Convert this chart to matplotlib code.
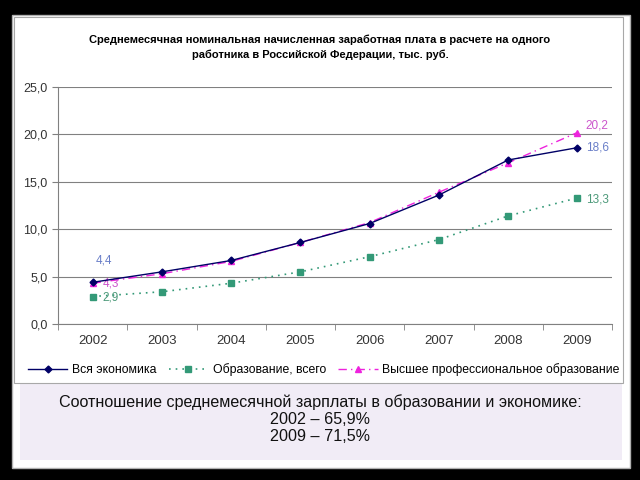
import matplotlib
matplotlib.use("Agg")
import matplotlib.pyplot as plt
from matplotlib.patches import Rectangle

plt.rcParams['font.family'] = ['Liberation Sans', 'DejaVu Sans']

# Data
years = ['2002', '2003', '2004', '2005', '2006', '2007', '2008', '2009']
economy = [4.4, 5.5, 6.7, 8.6, 10.6, 13.6, 17.3, 18.6]
education = [2.9, 3.4, 4.3, 5.5, 7.1, 8.9, 11.4, 13.3]
higher_edu = [4.3, 5.3, 6.6, 8.6, 10.7, 13.9, 17.0, 20.2]
yticks = [0, 5, 10, 15, 20, 25]

title = ("Среднемесячная номинальная начисленная заработная плата в расчете на одного\n"
         "работника в Российской Федерации, тыс. руб.")
note = ("Соотношение среднемесячной зарплаты в образовании и экономике:\n"
        "2002 – 65,9%\n2009 – 71,5%")

fig = plt.figure(figsize=(6.4, 4.8), dpi=100)
fig.patch.set_facecolor('black')

# white slide panel
fig.add_artist(Rectangle((12/640, 1-468/480), 618/640, 453/480, transform=fig.transFigure,
                         facecolor='white', edgecolor='#b0b0b0', linewidth=1, zorder=0))
# lavender note box
fig.add_artist(Rectangle((20/640, 1-460/480), 602/640, 77/480, transform=fig.transFigure,
                         facecolor='#f1ecf6', edgecolor='none', zorder=1))
# chart frame
fig.add_artist(Rectangle((14/640, 1-383/480), 609/640, 366/480, transform=fig.transFigure,
                         facecolor='none', edgecolor='#a8a8a8', linewidth=0.8, zorder=1))

ax = fig.add_axes([58/640, 1-324/480, 554/640, 237/480])
ax.set_facecolor('none')
x = list(range(len(years)))

ax.plot(x, economy, color='#000066', linestyle='-', linewidth=1.0, marker='D', markersize=3.5,
        label='Вся экономика', zorder=4)
ax.plot(x, education, color='#339977', linestyle=(0, (1, 3)), linewidth=1.2, marker='s', markersize=4.5,
        label='Образование, всего', zorder=3)
ax.plot(x, higher_edu, color='#ee22dd', linestyle=(0, (6, 3, 1, 3)), linewidth=1.0, marker='^', markersize=5,
        label='Высшее профессиональное образование', zorder=3)

blue_lbl = '#6a7fc8'
mag_lbl = '#cc55cc'
grn_lbl = '#4d9a7a'
fmt = lambda v: f"{v:.1f}".replace('.', ',')
lbl = dict(textcoords='offset points', fontsize=8.5, va='center')
ax.annotate(fmt(economy[0]), (x[0], economy[0]), xytext=(2, 16), color=blue_lbl, **lbl)
ax.annotate(fmt(higher_edu[0]), (x[0], higher_edu[0]), xytext=(7, 0), color=mag_lbl, **lbl)
ax.annotate(fmt(education[0]), (x[0], education[0]), xytext=(7, -1), color=grn_lbl, **lbl)
ax.annotate(fmt(higher_edu[-1]), (x[-1], higher_edu[-1]), xytext=(6, 5), color=mag_lbl, **lbl)
ax.annotate(fmt(economy[-1]), (x[-1], economy[-1]), xytext=(6, 0), color=blue_lbl, **lbl)
ax.annotate(fmt(education[-1]), (x[-1], education[-1]), xytext=(6, -1), color=grn_lbl, **lbl)

ax.set_xlim(-0.5, len(years) - 0.5)
ax.set_ylim(0, 25)
ax.set_yticks(yticks)
ax.set_yticklabels([fmt(v) for v in yticks], fontsize=9, color='#333333')
ax.yaxis.grid(True, color='#808080', linewidth=0.8)
ax.set_axisbelow(True)
ax.tick_params(axis='y', length=4, color='#808080', direction='out')
ax.set_xticks(x)
ax.set_xticklabels(years, fontsize=9.5, color='#333333')
ax.set_xticks([i - 0.5 for i in range(len(years) + 1)], minor=True)
ax.tick_params(axis='x', which='major', length=0, pad=8)
ax.tick_params(axis='x', which='minor', length=4, color='#808080')
for s in ['top', 'right']:
    ax.spines[s].set_visible(False)
ax.spines['left'].set_color('#808080')
ax.spines['bottom'].set_color('#808080')

fig.text(0.5, 1-47/480, title, ha='center', va='center', fontsize=8, fontweight='bold',
         linespacing=1.55)

fig.legend(loc='center', bbox_to_anchor=(324/640, 1-370/480), ncol=3, frameon=False,
           fontsize=8.8, handlelength=3.2, columnspacing=1.0, handletextpad=0.4)

fig.text(0.5, 1-419/480, note, ha='center', va='center', fontsize=11.6, color='#111111',
         linespacing=1.2)

fig.savefig('out.png', dpi=100, facecolor=fig.get_facecolor())
